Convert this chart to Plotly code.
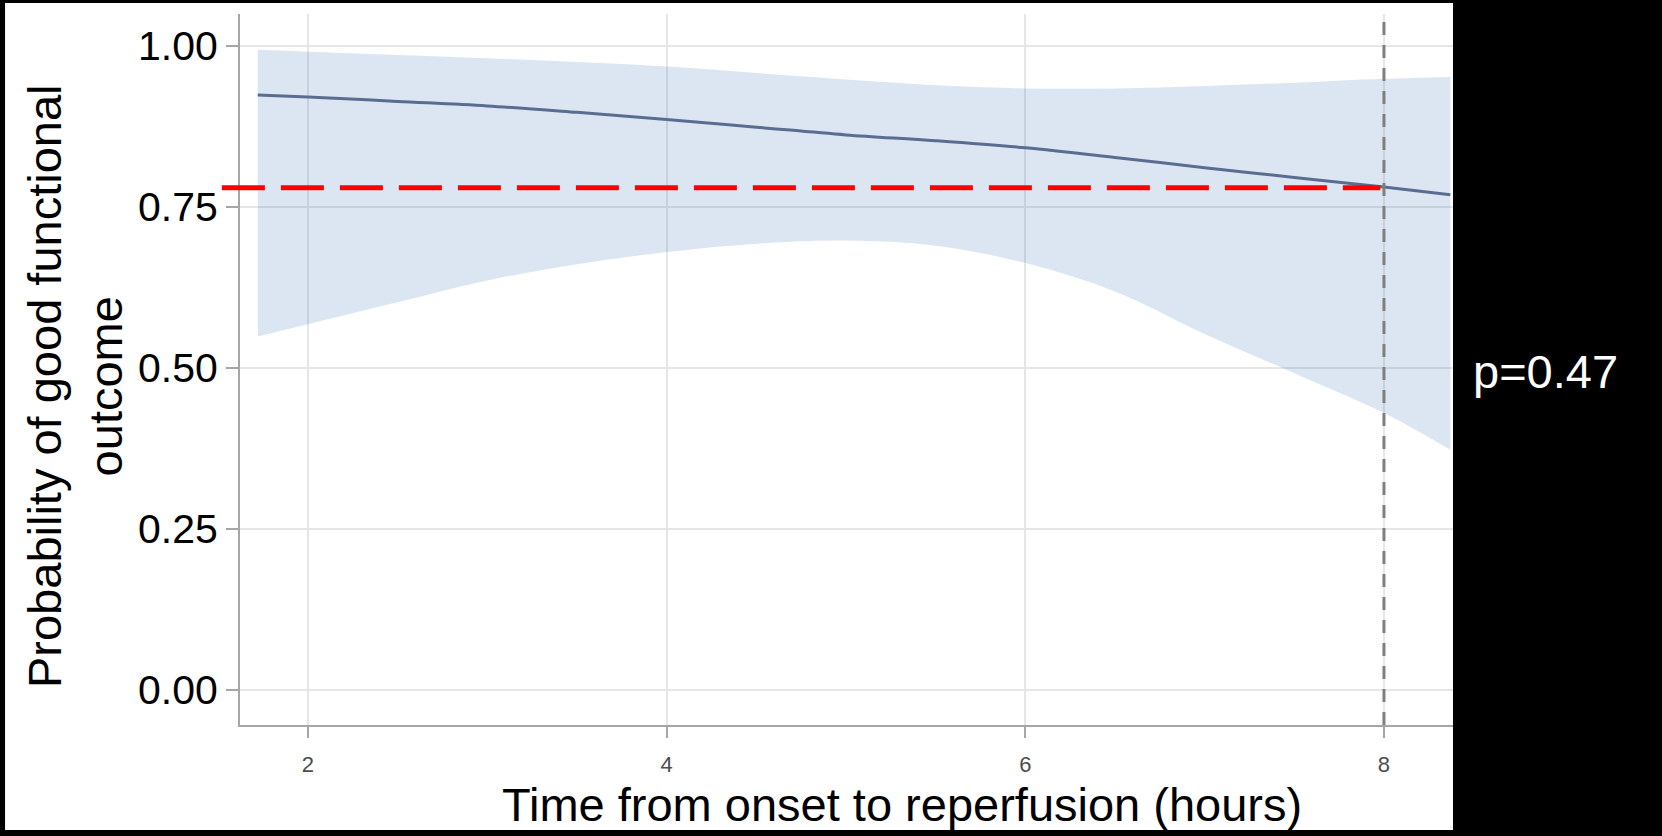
import plotly.graph_objects as go

# ---- data ----
time_h = [1.72, 2.0, 2.5, 3.0, 3.5, 4.0, 4.5, 5.0, 5.5, 6.0, 6.5, 7.0, 7.5, 8.0, 8.37]
prob_mean = [0.924, 0.921, 0.914, 0.907, 0.897, 0.886, 0.874, 0.862, 0.853, 0.842, 0.827, 0.811, 0.796, 0.781, 0.769]
ci_upper = [0.994, 0.991, 0.986, 0.981, 0.975, 0.968, 0.958, 0.948, 0.939, 0.934, 0.934, 0.938, 0.943, 0.949, 0.952]
ci_lower = [0.549, 0.568, 0.602, 0.636, 0.661, 0.680, 0.693, 0.698, 0.690, 0.663, 0.619, 0.553, 0.492, 0.430, 0.373]

x_ticks = [2, 4, 6, 8]
x_ticktext = ["2", "4", "6", "8"]
y_ticks = [0.0, 0.25, 0.5, 0.75, 1.0]
y_ticktext = ["0.00", "0.25", "0.50", "0.75", "1.00"]

ref_prob = 0.78          # red dashed reference level
ref_x = [1.52, 7.98]     # extent of red dashed line
cutoff_time = 8          # grey dashed vertical line
p_text = "p=0.47"
x_title = "Time from onset to reperfusion (hours)"
y_title = "Probability of good functional<br>outcome"

x_range = [1.621, 8.385]
y_range = [-0.0543, 1.0497]

FONT = "Liberation Sans, Arial, sans-serif"

fig = go.Figure()
fig.add_trace(go.Scatter(x=time_h, y=ci_lower, mode="lines", line=dict(width=0, shape="spline"),
                         showlegend=False, hoverinfo="skip"))
fig.add_trace(go.Scatter(x=time_h, y=ci_upper, mode="lines", line=dict(width=0, shape="spline"),
                         fill="tonexty", fillcolor="rgba(70,120,190,0.19)",
                         showlegend=False, hoverinfo="skip"))
fig.add_trace(go.Scatter(x=time_h, y=prob_mean, mode="lines",
                         line=dict(color="#5a6d91", width=3, shape="spline"),
                         showlegend=False))

def xdom(v):
    return (v - x_range[0]) / (x_range[1] - x_range[0])

def ydom(v):
    return (v - y_range[0]) / (y_range[1] - y_range[0])

shapes = [
    # white panel of the pasted figure
    dict(type="rect", xref="paper", yref="paper", x0=-0.1937, x1=1.0, y0=-0.1477, y1=1.0155,
         fillcolor="white", line=dict(width=0), layer="below"),
    # grey vertical dashed line at 8 h
    dict(type="line", xref="x", yref="paper", x0=cutoff_time, x1=cutoff_time, y0=0, y1=1,
         line=dict(color="#7f7f7f", width=3, dash="13px,10px"), layer="above"),
    # red dashed reference line (paper refs so it can extend past the y axis)
    dict(type="line", xref="paper", yref="paper",
         x0=xdom(ref_x[0]), x1=xdom(ref_x[1]), y0=ydom(ref_prob), y1=ydom(ref_prob),
         line=dict(color="#ff0000", width=5, dash="43px,16px"), layer="above"),
]

annotations = [
    dict(text=y_title, xref="paper", yref="paper", x=-0.136, y=0.4768, textangle=-90,
         showarrow=False, xanchor="center", yanchor="middle",
         font=dict(family=FONT, size=47, color="black")),
    dict(text=x_title, xref="paper", yref="paper", x=0.5458, y=-0.1125,
         showarrow=False, xanchor="center", yanchor="middle",
         font=dict(family=FONT, size=47, color="black")),
    dict(text=p_text, xref="paper", yref="paper", x=1.0 + (1545 - 1453) / 1213, y=(725 - 371) / 711,
         showarrow=False, xanchor="center", yanchor="middle",
         font=dict(family=FONT, size=47, color="white")),
]

fig.update_layout(
    width=1662, height=836,
    margin=dict(l=240, r=209, t=14, b=111),
    paper_bgcolor="black", plot_bgcolor="white",
    shapes=shapes, annotations=annotations,
    showlegend=False,
    font=dict(family=FONT),
)
fig.update_xaxes(range=x_range, tickvals=x_ticks, ticktext=x_ticktext,
                 showgrid=True, gridcolor="#e6e6e6", gridwidth=1.5,
                 showline=True, linecolor="#a6a6a6", linewidth=2,
                 ticks="outside", ticklen=11, tickcolor="#a6a6a6", tickwidth=2,
                 ticklabelstandoff=8,
                 tickfont=dict(family=FONT, size=22, color="#4d4d4d"),
                 zeroline=False)
fig.update_yaxes(range=y_range, tickvals=y_ticks, ticktext=y_ticktext,
                 showgrid=True, gridcolor="#e6e6e6", gridwidth=1.5,
                 showline=True, linecolor="#a6a6a6", linewidth=2,
                 ticks="outside", ticklen=12, tickcolor="#a6a6a6", tickwidth=2,
                 tickfont=dict(family=FONT, size=41, color="black"),
                 zeroline=False)

fig.write_html("out.html",
               config={"displayModeBar": False},
               post_script="document.body.style.margin='0';document.body.style.padding='0';document.body.style.overflow='hidden';")
